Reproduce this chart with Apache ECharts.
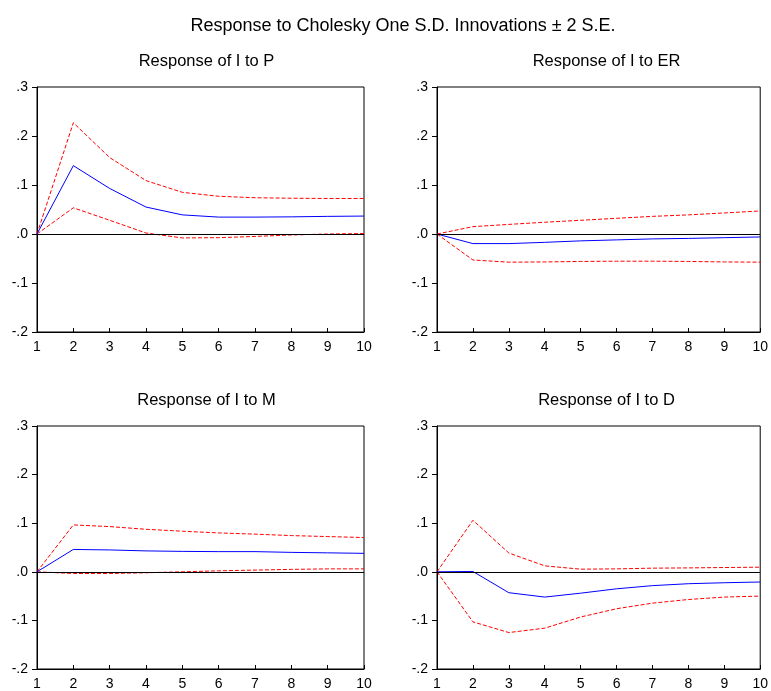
<!DOCTYPE html>
<html>
<head>
<meta charset="utf-8">
<script src="https://cdn.jsdelivr.net/npm/echarts@6/dist/echarts.min.js"></script>
<style>
  html, body { margin: 0; padding: 0; background: #fff; }
  #chart { width: 771px; height: 691px; }
</style>
</head>
<body>
<div id="chart"></div>
<script>
// periods 1..10
var periods = [1, 2, 3, 4, 5, 6, 7, 8, 9, 10];
var yTicks = [-0.2, -0.1, 0.0, 0.1, 0.2, 0.3];

var panelTitles = ["Response of I to P", "Response of I to ER", "Response of I to M", "Response of I to D"];

// Response of I to P
var respP  = [0, 0.1395, 0.093, 0.055, 0.039, 0.0345, 0.0345, 0.035, 0.036, 0.0366];
var upperP = [0, 0.227, 0.156, 0.109, 0.085, 0.077, 0.074, 0.073, 0.0725, 0.0725];
var lowerP = [0, 0.0535, 0.028, 0.002, -0.008, -0.0075, -0.005, -0.002, 0.0, 0.001];

// Response of I to ER
var respER  = [0, -0.0196, -0.0196, -0.017, -0.014, -0.012, -0.010, -0.009, -0.0075, -0.006];
var upperER = [0, 0.015, 0.0196, 0.024, 0.028, 0.032, 0.036, 0.039, 0.043, 0.047];
var lowerER = [0, -0.053, -0.0575, -0.057, -0.056, -0.0555, -0.0555, -0.056, -0.057, -0.0575];

// Response of I to M
var respM  = [0, 0.046, 0.045, 0.043, 0.042, 0.0415, 0.0415, 0.040, 0.039, 0.038];
var upperM = [0, 0.0965, 0.093, 0.0875, 0.0835, 0.080, 0.0775, 0.0745, 0.0725, 0.0705];
var lowerM = [0, -0.0035, -0.0035, -0.002, 0.0, 0.002, 0.0035, 0.005, 0.006, 0.006];

// Response of I to D
var respD  = [0, 0.0007, -0.043, -0.052, -0.044, -0.035, -0.0285, -0.0245, -0.0225, -0.021];
var upperD = [0, 0.106, 0.0387, 0.0122, 0.0054, 0.006, 0.0075, 0.008, 0.0088, 0.0095];
var lowerD = [0, -0.103, -0.125, -0.116, -0.093, -0.076, -0.0645, -0.057, -0.052, -0.050];

var panels = [
    {resp: respP,  upper: upperP,  lower: lowerP},
    {resp: respER, upper: upperER, lower: lowerER},
    {resp: respM,  upper: upperM,  lower: lowerM},
    {resp: respD,  upper: upperD,  lower: lowerD}
];

var FONT = "Liberation Sans";
var boxes = [
    {left: 37,  top: 87},
    {left: 437, top: 87},
    {left: 37,  top: 426},
    {left: 437, top: 426}
];
var W = 327, H = 245;

function pair(vals){
    var out = [];
    for (var i = 0; i < periods.length; i++) out.push([periods[i], vals[i]]);
    return out;
}

function fmtY(v){
    var s = (Math.round(v * 10) / 10).toFixed(1);
    return s.replace("0.", ".");
}

var titles = [{
    text: "Response to Cholesky One S.D. Innovations \u00b1 2 S.E.",
    left: 398, top: 12, textAlign: "center",
    textStyle: {fontFamily: FONT, fontSize: 18, fontWeight: "normal", color: "#000"}
}];
var grids = [], xAxes = [], yAxes = [], series = [];

for (var k = 0; k < 4; k++) {
    var b = boxes[k];
    titles.push({
        text: panelTitles[k],
        left: b.left + W / 2 + 1, top: b.top - 39, textAlign: "center",
        textStyle: {fontFamily: FONT, fontSize: 16.5, fontWeight: "normal", color: "#000"}
    });
    grids.push({
        left: b.left, top: b.top, width: W, height: H,
        show: true, borderColor: "#000", borderWidth: 1, backgroundColor: "transparent"
    });
    xAxes.push({
        type: "value", gridIndex: k, min: 1, max: 10, interval: 1,
        axisLine: {show: true, onZero: false, lineStyle: {color: "#000", width: 1}},
        axisTick: {show: true, inside: true, length: 4, lineStyle: {color: "#000"}},
        axisLabel: {fontFamily: FONT, fontSize: 14, color: "#000", margin: 8},
        splitLine: {show: false}
    });
    yAxes.push({
        type: "value", gridIndex: k, min: -0.2, max: 0.3, interval: 0.1,
        axisLine: {show: true, onZero: false, lineStyle: {color: "#000", width: 1}},
        axisTick: {show: true, inside: false, length: 5, lineStyle: {color: "#000"}},
        axisLabel: {fontFamily: FONT, fontSize: 14, color: "#000", margin: 9, formatter: fmtY},
        splitLine: {show: false}
    });
    var p = panels[k];
    // zero reference line, kept under the response lines
    series.push({
        type: "line", xAxisIndex: k, yAxisIndex: k, data: [], z: 1,
        markLine: {
            silent: true, symbol: ["none", "none"], label: {show: false},
            lineStyle: {color: "#000", type: "solid", width: 1},
            data: [{yAxis: 0}], animation: false
        }
    });
    series.push({
        type: "line", xAxisIndex: k, yAxisIndex: k, data: pair(p.upper),
        symbol: "none", lineStyle: {color: "#ff0000", width: 1, type: [4, 2]}, z: 3
    });
    series.push({
        type: "line", xAxisIndex: k, yAxisIndex: k, data: pair(p.lower),
        symbol: "none", lineStyle: {color: "#ff0000", width: 1, type: [4, 2]}, z: 3
    });
    series.push({
        type: "line", xAxisIndex: k, yAxisIndex: k, data: pair(p.resp),
        symbol: "none", lineStyle: {color: "#0000ff", width: 1}, z: 4
    });
}

var chart = echarts.init(document.getElementById("chart"), null, {renderer: "canvas"});
chart.setOption({
    backgroundColor: "#fff",
    animation: false,
    title: titles,
    grid: grids,
    xAxis: xAxes,
    yAxis: yAxes,
    series: series
});
</script>
</body>
</html>
